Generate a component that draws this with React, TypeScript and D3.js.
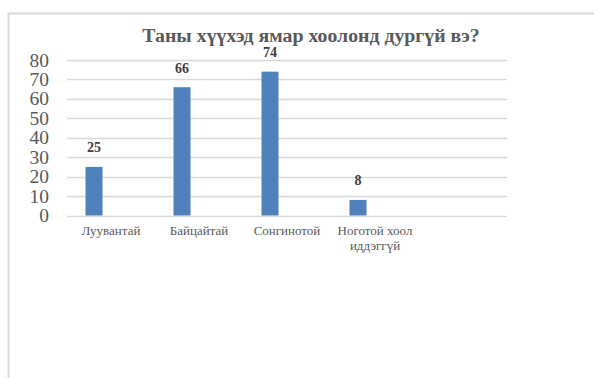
import React from "react";
import * as d3 from "d3";

const categories = ["Луувантай", "Байцайтай", "Сонгинотой", "Ноготой хоол иддэггүй", ""];
const categoryLines = [["Луувантай"], ["Байцайтай"], ["Сонгинотой"], ["Ноготой хоол", "иддэггүй"], []];
const values = [25, 66, 74, 8, null];
const yTicks = [0, 10, 20, 30, 40, 50, 60, 70, 80];
const title = "Таны хүүхэд ямар хоолонд дургүй вэ?";

export default function App() {
  const W = 594, H = 378;
  const x = d3.scaleBand<string>().domain(categories.map((c, i) => String(i))).range([67, 507]);
  const y = d3.scaleLinear().domain([0, 80]).range([215.5, 60]);
  const barW = 17;
  const barOff = 18.5;
  const font = "'Liberation Serif', 'Times New Roman', serif";
  return (
    <svg width={W} height={H} style={{ position: "absolute", left: 0, top: 0, background: "#fff" }}>
      <path d={`M8.5,${H} V13.5 H${W}`} fill="none" stroke="#d9d9d9" strokeWidth={2} />
      <text x={311} y={41.5} textAnchor="middle" fontFamily={font} fontSize={19.8} fontWeight="bold" fill="#595959">{title}</text>
      {yTicks.map((t) => (
        <g key={t}>
          <line x1={67} x2={507} y1={Math.round(y(t)) + 0.5} y2={Math.round(y(t)) + 0.5} stroke="#d9d9d9" strokeWidth={1.5} />
          <text x={49} y={y(t) + 6.5} textAnchor="end" fontFamily={font} fontSize={19.5} fill="#595959">{t}</text>
        </g>
      ))}
      {values.map((v, i) => v == null ? null : (
        <g key={i}>
          <rect x={(x(String(i)) as number) + barOff} y={y(v)} width={barW} height={y(0) - y(v)} fill="#4F81BD" />
          <text x={(x(String(i)) as number) + barOff + barW / 2} y={y(v) - 14.5} textAnchor="middle" fontFamily={font} fontSize={14} fontWeight="bold" fill="#404040">{v}</text>
        </g>
      ))}
      {categoryLines.map((lines, i) => (
        <text key={i} x={(x(String(i)) as number) + x.bandwidth() / 2} y={235} textAnchor="middle" fontFamily={font} fontSize={13} fill="#595959">
          {lines.map((l, j) => (
            <tspan key={j} x={(x(String(i)) as number) + x.bandwidth() / 2} dy={j === 0 ? 0 : 15}>{l}</tspan>
          ))}
        </text>
      ))}
    </svg>
  );
}
